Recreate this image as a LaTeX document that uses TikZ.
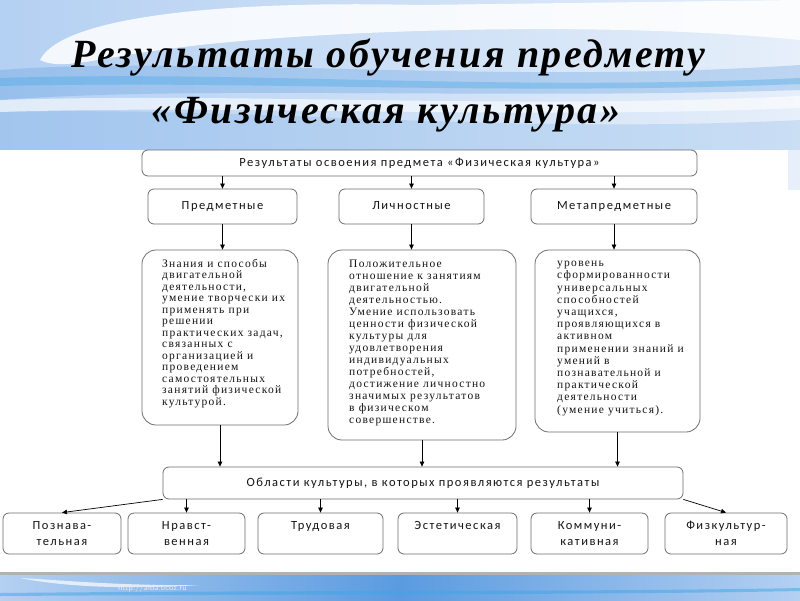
\documentclass[tikz,border=0pt]{standalone}
\usepackage{fontspec}
\setmainfont{Liberation Serif}
\newfontfamily\titlefont[LetterSpace=6]{Liberation Serif}
\newfontfamily\lblfont[LetterSpace=12]{Carlito}
\newfontfamily\txtfont[LetterSpace=11]{Liberation Serif}
\usetikzlibrary{arrows.meta,calc}
\definecolor{paleblue}{HTML}{E6EFFA}
\definecolor{bgblue}{HTML}{B4D0F2}
\definecolor{deepblue}{HTML}{5A9BE0}
\definecolor{cyanblue}{HTML}{3FA6E6}
\definecolor{boxline}{HTML}{6E6E6E}
\definecolor{txtgray}{HTML}{141414}
\tikzset{
  rbox/.style={draw=boxline, line width=0.8pt, rounded corners=6pt, fill=white, inner sep=0pt},
  bigbox/.style={draw=boxline, line width=0.8pt, rounded corners=14pt, fill=white, inner sep=0pt},
  lbl/.style={font=\lblfont\fontsize{12.5}{16}\selectfont, text=txtgray, align=center},
  one/.style={text height=9pt, text depth=3pt},
  body/.style={text=txtgray, align=left, anchor=north west, inner sep=0pt},
  arr/.style={-{Triangle[length=5pt,width=4.5pt]}, line width=0.7pt, black},
  ttl/.style={font=\titlefont\bfseries\itshape\fontsize{40}{44}\selectfont, anchor=base, inner sep=0pt}
}
\begin{document}
\begin{tikzpicture}[x=1pt,y=-1pt]
\useasboundingbox (0,0) rectangle (800,600);
% background
\fill[white] (0,0) rectangle (800,600);
\shade[left color=bgblue, right color=paleblue] (0,0) rectangle (800,150);
\fill[white, opacity=0.85] (40,60) .. controls (60,20) and (200,0) .. (420,5) -- (800,0) -- (800,40) .. controls (600,20) and (300,30) .. (160,50) .. controls (90,60) and (60,70) .. (40,60) -- cycle;
\fill[deepblue, opacity=0.3] (0,70) .. controls (200,55) and (500,85) .. (800,65) -- (800,90) .. controls (500,100) and (200,85) .. (0,100) -- cycle;
\fill[cyanblue, opacity=0.35] (0,78) .. controls (250,70) and (500,92) .. (800,78) -- (800,84) .. controls (500,96) and (250,80) .. (0,86) -- cycle;
\fill[white, opacity=0.6] (0,100) .. controls (250,92) and (500,110) .. (800,96) -- (800,108) .. controls (500,120) and (250,104) .. (0,112) -- cycle;
\fill[deepblue, opacity=0.2] (0,112) .. controls (250,106) and (500,135) .. (800,120) -- (800,150) -- (0,150) -- cycle;
\fill[paleblue] (788,150) rectangle (800,190);
\fill[white] (0,150) rectangle (788,572);
\fill[gray!60] (0,572) rectangle (800,575);
\shade[left color=bgblue, right color=deepblue] (0,575) rectangle (400,600);
\shade[left color=deepblue, right color=bgblue] (400,575) rectangle (800,600);
\fill[white, opacity=0.7] (20,578) .. controls (60,580) and (120,586) .. (200,585) .. controls (120,590) and (60,586) .. (20,578) -- cycle;
\fill[cyanblue, opacity=0.5] (0,593) .. controls (300,590) and (600,592) .. (800,588) -- (800,591) .. controls (600,595) and (300,594) .. (0,596) -- cycle;
\node[font=\sffamily\fontsize{8}{9}\selectfont, text=white!85!gray, anchor=base west, inner sep=0pt] (url) at (118,590) {http://aida.ucoz.ru};

% title
\node[ttl] (t1) at (388.5,67) {Результаты обучения предмету};
\node[ttl] (t2) at (386,123) {«Физическая культура»};

% boxes
\node[rbox, minimum width=555, minimum height=26, lbl, one] (top) at (419.5,163) {Результаты освоения предмета «Физическая культура»};
\node[rbox, minimum width=149, minimum height=35, lbl, one] (pr) at (222.5,206.5) {Предметные};
\node[rbox, minimum width=145, minimum height=35, lbl, one] (li) at (411.5,206.5) {Личностные};
\node[rbox, minimum width=166, minimum height=35, lbl, one] (me) at (614,206.5) {Метапредметные};

\node[bigbox, minimum width=156, minimum height=175] (b1) at (220,337.5) {};
\node[bigbox, minimum width=188, minimum height=190] (b2) at (422,345) {};
\node[bigbox, minimum width=165, minimum height=182] (b3) at (617.5,341) {};
\node[body, font=\txtfont\fontsize{11.5}{11.5}\selectfont] (b1t) at (162,259) {Знания и способы\\двигательной\\деятельности,\\умение творчески их\\применять при\\решении\\практических задач,\\связанных с\\организацией и\\проведением\\самостоятельных\\занятий физической\\культурой.};
\node[body, font=\txtfont\fontsize{11.5}{12}\selectfont] (b2t) at (349,260) {Положительное\\отношение к занятиям\\двигательной\\деятельностью.\\Умение использовать\\ценности физической\\культуры для\\удовлетворения\\индивидуальных\\потребностей,\\достижение личностно\\значимых результатов\\в физическом\\совершенстве.};
\node[body, font=\txtfont\fontsize{11.5}{12.2}\selectfont] (b3t) at (557,261) {уровень\\сформированности\\универсальных\\способностей\\учащихся,\\проявляющихся в\\активном\\применении знаний и\\умений в\\познавательной и\\практической\\деятельности\\(умение учиться).};

\node[rbox, minimum width=520, minimum height=32, lbl, one] (wide) at (423,483) {Области культуры, в которых проявляются результаты};

\node[rbox, minimum width=118, minimum height=41, lbl] (c1) at (62,533.5) {Познава-\\тельная};
\node[rbox, minimum width=117, minimum height=41, lbl] (c2) at (186.5,533.5) {Нравст-\\венная};
\node[rbox, minimum width=125, minimum height=41, lbl] (c3) at (320.5,533.5) {Трудовая\\\mbox{}};
\node[rbox, minimum width=119, minimum height=41, lbl] (c4) at (457.5,533.5) {Эстетическая\\\mbox{}};
\node[rbox, minimum width=117, minimum height=41, lbl] (c5) at (589.5,533.5) {Коммуни-\\кативная};
\node[rbox, minimum width=122, minimum height=41, lbl] (c6) at (726,533.5) {Физкультур-\\ная};

% connectors
\draw[arr] (top.south -| pr) -- (pr.north);
\draw[arr] (top.south -| li) -- (li.north);
\draw[arr] (top.south -| me) -- (me.north);
\draw[arr] (pr.south) -- (pr.south |- b1.north);
\draw[arr] (li.south) -- (li.south |- b2.north);
\draw[arr] (me.south) -- (me.south |- b3.north);
\draw[arr] (b1.south) -- (b1.south |- wide.north);
\draw[arr] (b2.south) -- (b2.south |- wide.north);
\draw[arr] (b3.south) -- (b3.south |- wide.north);
\draw[arr] (wide.south west) -- (c1.north);
\draw[arr] (wide.south -| c2) -- (c2.north);
\draw[arr] (wide.south -| c3) -- (c3.north);
\draw[arr] (wide.south -| c4) -- (c4.north);
\draw[arr] (wide.south -| c5) -- (c5.north);
\draw[arr] (wide.south east) -- (c6.north);
\end{tikzpicture}
\end{document}
